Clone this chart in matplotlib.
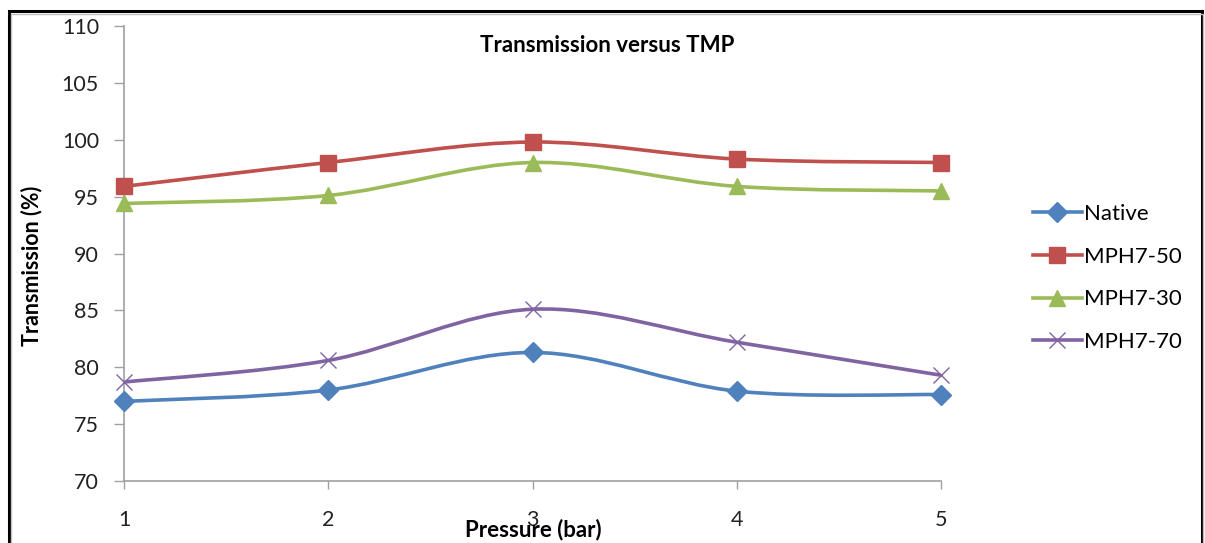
import numpy as np
import matplotlib
matplotlib.use("Agg")
import matplotlib.pyplot as plt
from matplotlib.path import Path
from matplotlib.patches import PathPatch, Rectangle
from matplotlib.lines import Line2D

plt.rcParams['font.family'] = ['Lato', 'DejaVu Sans']

pressure = [1, 2, 3, 4, 5]
native = [77.0, 78.0, 81.3, 77.9, 77.6]
mph7_50 = [95.9, 98.0, 99.8, 98.3, 98.0]
mph7_30 = [94.4, 95.1, 98.0, 95.9, 95.5]
mph7_70 = [78.7, 80.6, 85.1, 82.2, 79.3]
series_names = ['Native', 'MPH7-50', 'MPH7-30', 'MPH7-70']
y_ticks = [70, 75, 80, 85, 90, 95, 100, 105, 110]

colors = ['#4F81BD', '#C0504D', '#9BBB59', '#8064A2']
markers = ['D', 's', '^', 'x']
msizes = [10, 12, 12, 11]


def smooth_path(x, y):
    # excel style smoothed line: cubic bezier through every point
    p = np.column_stack([x, y]).astype(float)
    ext = np.vstack([p[0], p, p[-1]])
    verts = [p[0]]
    codes = [Path.MOVETO]
    for i in range(len(p) - 1):
        c1 = ext[i + 1] + (ext[i + 2] - ext[i]) / 6
        c2 = ext[i + 2] - (ext[i + 3] - ext[i + 1]) / 6
        verts += [c1, c2, p[i + 1]]
        codes += [Path.CURVE4] * 3
    return Path(verts, codes)


fig = plt.figure(figsize=(12.05, 5.43), dpi=100)
W, H = 1205, 543
ax = fig.add_axes([124 / W, 1 - 481 / H, (941 - 124) / W, (481 - 26) / H])

all_series = [native, mph7_50, mph7_30, mph7_70]
handles = []
for vals, name, c, m, ms in zip(all_series, series_names, colors, markers, msizes):
    ax.add_patch(PathPatch(smooth_path(pressure, vals), facecolor='none',
                           edgecolor=c, lw=2.6, zorder=2))
    ax.plot(pressure, vals, ls='none', marker=m, ms=ms, mfc=c, mec=c,
            mew=1.0, zorder=3, clip_on=False)
    handles.append(Line2D([], [], color=c, lw=2.6, marker=m, ms=ms,
                          mfc=c, mec=c, mew=1.0))

ax.set_xlim(1, 5)
ax.set_ylim(70, 110)
ax.set_xticks(pressure)
ax.set_yticks(y_ticks)
for s in ['top', 'right']:
    ax.spines[s].set_visible(False)
for s in ['left', 'bottom']:
    ax.spines[s].set_color('#A0A0A0')
    ax.spines[s].set_linewidth(1.2)
ax.tick_params(axis='y', direction='out', length=7, width=1, color='#A0A0A0',
               labelsize=15.5, pad=11, labelcolor='#222222')
ax.tick_params(axis='x', direction='out', length=6, width=1, color='#A0A0A0',
               labelsize=15.5, pad=15, labelcolor='#222222')

fig.text(607 / W, 1 - 46 / H, 'Transmission versus TMP', ha='center',
         va='center', fontsize=16, fontweight='bold')
fig.text(32 / W, 1 - 266 / H, 'Transmission (%)', ha='center', va='center',
         rotation=90, fontsize=15.5, fontweight='bold')
fig.text(533 / W, 1 - 530 / H, 'Pressure (bar)', ha='center', va='center',
         fontsize=16, fontweight='bold')

fig.legend(handles, series_names, loc='upper left',
           bbox_to_anchor=(1013 / W, 1 - 184 / H), frameon=False,
           fontsize=16, handlelength=2.2, handletextpad=0.1,
           labelspacing=1.02)

# chart frame
fig.patches.append(Rectangle((9 / W, -0.05), (1202 - 9) / W, 1.05 - 11 / H,
                             transform=fig.transFigure, fill=False,
                             edgecolor='black', lw=2.2))
fig.patches.append(Rectangle((11 / W, -0.05), (1203 - 11) / W, 1.05 - 13.5 / H,
                             transform=fig.transFigure, fill=False,
                             edgecolor='#C0C0C0', lw=1))

fig.savefig('out.png', dpi=100)
